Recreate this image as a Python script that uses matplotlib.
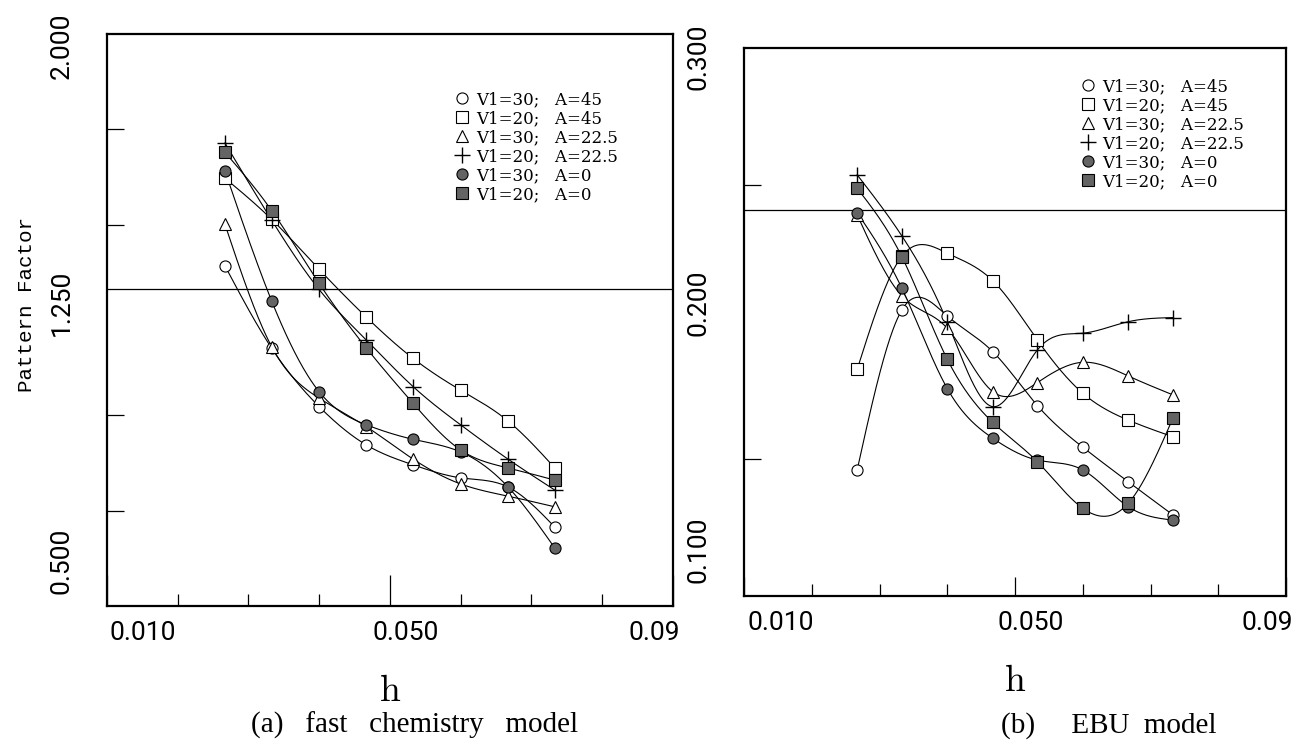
import numpy as np
import matplotlib
matplotlib.use("Agg")
from matplotlib import pyplot as plt
from matplotlib import transforms

# grid spacing h (same columns in both panels)
h = [0.0267, 0.0333, 0.0400, 0.0467, 0.0533, 0.0600, 0.0667, 0.0733]

# (a) fast chemistry model - pattern factor
fast_v30_a45 = [1.392, 1.176, 1.023, 0.922, 0.870, 0.836, 0.812, 0.707]
fast_v20_a45 = [1.622, 1.514, 1.383, 1.257, 1.149, 1.066, 0.985, 0.862]
fast_v30_a22 = [1.501, 1.180, 1.045, 0.970, 0.885, 0.820, 0.788, 0.760]
fast_v20_a22 = [1.714, 1.512, 1.330, 1.197, 1.075, 0.975, 0.885, 0.804]
fast_v30_a0 = [1.641, 1.300, 1.062, 0.975, 0.937, 0.904, 0.812, 0.652]
fast_v20_a0 = [1.690, 1.537, 1.346, 1.176, 1.031, 0.909, 0.862, 0.830]
fast_ref = 1.331

# (b) EBU model - pattern factor
ebu_v30_a45 = [0.1460, 0.2044, 0.2022, 0.1892, 0.1695, 0.1543, 0.1417, 0.1296]
ebu_v20_a45 = [0.1827, 0.2240, 0.2251, 0.2151, 0.1934, 0.1740, 0.1642, 0.1581]
ebu_v30_a22 = [0.2391, 0.2095, 0.1977, 0.1746, 0.1779, 0.1853, 0.1803, 0.1734]
ebu_v20_a22 = [0.2537, 0.2314, 0.2000, 0.1691, 0.1898, 0.1959, 0.2001, 0.2016]
ebu_v30_a0 = [0.2399, 0.2123, 0.1757, 0.1576, 0.1496, 0.1460, 0.1326, 0.1277]
ebu_v20_a0 = [0.2488, 0.2238, 0.1864, 0.1634, 0.1490, 0.1320, 0.1338, 0.1649]
ebu_ref = 0.2409

labels = ["V1=30;   A=45", "V1=20;   A=45", "V1=30;   A=22.5",
          "V1=20;   A=22.5", "V1=30;   A=0", "V1=20;   A=0"]

GREY = "#646464"
styles = [
    dict(marker="o", mfc="white", ms=8),
    dict(marker="s", mfc="white", ms=8),
    dict(marker="^", mfc="white", ms=9),
    dict(marker="+", mfc="none", ms=11, mew=1.0),
    dict(marker="o", mfc=GREY, ms=8),
    dict(marker="s", mfc=GREY, ms=8),
]
TICK_FONT = dict(family="Roboto", size=19)


def spline(x, y, n=300):
    # natural cubic spline through the points, used only for drawing the curve
    x = np.asarray(x, float)
    y = np.asarray(y, float)
    k = len(x)
    dx = np.diff(x)
    A = np.zeros((k, k))
    b = np.zeros(k)
    A[0, 0] = A[-1, -1] = 1.0
    for i in range(1, k - 1):
        A[i, i - 1] = dx[i - 1]
        A[i, i] = 2 * (dx[i - 1] + dx[i])
        A[i, i + 1] = dx[i]
        b[i] = 6 * ((y[i + 1] - y[i]) / dx[i] - (y[i] - y[i - 1]) / dx[i - 1])
    m = np.linalg.solve(A, b)
    xs = np.linspace(x[0], x[-1], n)
    idx = np.clip(np.searchsorted(x, xs) - 1, 0, k - 2)
    t0 = xs - x[idx]
    t1 = x[idx + 1] - xs
    d = dx[idx]
    ys = (m[idx] * t1 ** 3 + m[idx + 1] * t0 ** 3) / (6 * d) \
        + (y[idx] / d - m[idx] * d / 6) * t1 \
        + (y[idx + 1] / d - m[idx + 1] * d / 6) * t0
    return xs, ys


def shift(label, dx_px, dy_px):
    label.set_transform(label.get_transform() +
                        transforms.ScaledTranslation(dx_px / 100, dy_px / 100,
                                                     fig.dpi_scale_trans))


def draw_panel(ax, series, ref, ylim, yticks, yticklabels, ylabel_shift,
               minor_y, mid_tick, legend_anchor):
    for vals, st, lab in zip(series, styles, labels):
        xs, ys = spline(h, vals)
        ax.plot(xs, ys, color="black", lw=0.8, zorder=2)
        ax.plot(h, vals, ls="none", color="black", mec="black",
                mew=st.get("mew", 0.8), marker=st["marker"], mfc=st["mfc"],
                ms=st["ms"], label=lab, zorder=3)
    ax.axhline(ref, color="black", lw=0.9, zorder=1)

    ax.set_xlim(0.01, 0.09)
    ax.set_ylim(*ylim)
    for s in ax.spines.values():
        s.set_linewidth(1.6)

    # x ticks: marks every 0.01 inward, labels at 0.010 / 0.050 / 0.09
    ax.set_xticks([0.01, 0.05, 0.09])
    ax.set_xticklabels(["0.010", "0.050", "0.09"], **TICK_FONT)
    ax.set_xticks([0.02, 0.03, 0.04, 0.06, 0.07, 0.08], minor=True)
    ax.tick_params(axis="x", which="minor", direction="in", length=9, width=0.9)
    ax.tick_params(axis="x", which="major", direction="in", length=mid_tick,
                   width=0.9, pad=11)

    ax.set_yticks(yticks)
    ax.set_yticklabels(yticklabels, rotation=90, va="center", **TICK_FONT)
    ax.set_yticks(minor_y, minor=True)
    ax.tick_params(axis="y", which="minor", direction="in", length=12, width=0.9)
    ax.tick_params(axis="y", which="major", direction="in", length=0, pad=24)

    # label offsets as in the original print (after tick_params, which resets them)
    xl = ax.get_xticklabels()
    xl[0].set_ha("left")
    shift(xl[0], 3, 0)
    shift(xl[1], 16, 0)
    xl[2].set_ha("right")
    shift(xl[2], 7, 0)
    for lab, dy in zip(ax.get_yticklabels(), ylabel_shift):
        shift(lab, 0, dy)

    ax.set_xlabel(r"$\mathrm{h}$", fontsize=27, labelpad=20)

    ax.legend(loc="upper left", bbox_to_anchor=legend_anchor, frameon=False,
              handlelength=0.9, handletextpad=0.4, labelspacing=0.12,
              borderpad=0, prop={"family": "DejaVu Serif", "size": 12})


plt.rcParams["mathtext.fontset"] = "cm"
fig = plt.figure(figsize=(13.03, 7.45), dpi=100)
ax1 = fig.add_axes([0.0819, 0.1866, 0.4346, 0.7678])
ax2 = fig.add_axes([0.5710, 0.2000, 0.4160, 0.7356])

draw_panel(ax1, [fast_v30_a45, fast_v20_a45, fast_v30_a22, fast_v20_a22, fast_v30_a0, fast_v20_a0],
           fast_ref, (0.5, 2.0), [0.5, 1.25, 2.0], ["0.500", "1.250", "2.000"],
           [45, 17, -12], [0.75, 1.0, 1.25, 1.5, 1.75], 22, (0.60, 0.915))
draw_panel(ax2, [ebu_v30_a45, ebu_v20_a45, ebu_v30_a22, ebu_v20_a22, ebu_v30_a0, ebu_v20_a0],
           ebu_ref, (0.1, 0.3), [0.1, 0.2, 0.3], ["0.100", "0.200", "0.300"],
           [46, 19, -9], [0.15, 0.2, 0.25], 14, (0.605, 0.96))

fig.text(27 / 1303, 1 - 305 / 745, "Pattern Factor", rotation=90, ha="center",
         va="center", fontsize=15, family="Liberation Mono")

fig.text(415 / 1303, 12 / 745, "(a)   fast   chemistry   model", fontsize=21,
         family="Liberation Serif", ha="center", va="baseline")
fig.text(1001 / 1303, 12 / 745, "(b)     EBU  model", fontsize=21,
         family="Liberation Serif", ha="left", va="baseline")

fig.savefig("out.png", dpi=100)
